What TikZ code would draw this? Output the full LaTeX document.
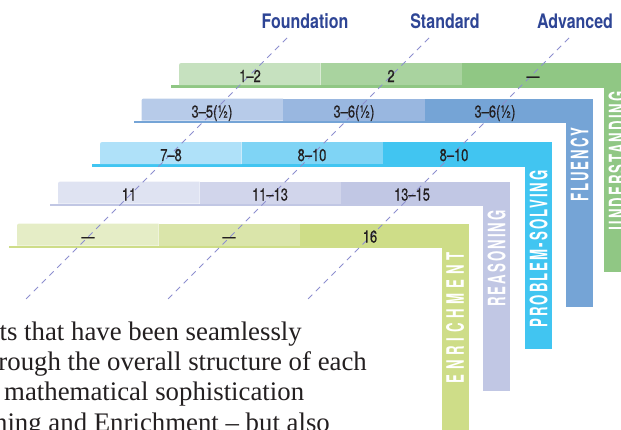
\documentclass[tikz,border=0pt]{standalone}
\usepackage{fontspec}
\setmainfont{Liberation Serif}
\newfontfamily\headfont{TeX Gyre Heros}[FakeStretch=0.8]
\newfontfamily\numfont{TeX Gyre Heros}[FakeStretch=0.76,FakeBold=0.7]
\newfontfamily\barfont{TeX Gyre Heros}[FakeStretch=0.55,LetterSpace=8.5]
\newfontfamily\widebarfont{TeX Gyre Heros}[FakeStretch=0.55,LetterSpace=20]

\definecolor{headblue}{HTML}{2E4595}
\definecolor{textgrey}{HTML}{231F20}
\definecolor{dashblue}{HTML}{8D8FCF}
% understanding
\definecolor{unlight}{HTML}{C6E1BF}
\definecolor{unmid}{HTML}{A9D39F}
\definecolor{undark}{HTML}{90C784}
% fluency
\definecolor{fllight}{HTML}{B7CBE9}
\definecolor{flmid}{HTML}{99B7E0}
\definecolor{fldark}{HTML}{75A4D6}
% problem-solving
\definecolor{pslight}{HTML}{AFE1F9}
\definecolor{psmid}{HTML}{7FD4F5}
\definecolor{psdark}{HTML}{41C5F1}
% reasoning
\definecolor{relight}{HTML}{DFE3F2}
\definecolor{remid}{HTML}{D1D5EB}
\definecolor{redark}{HTML}{C1C7E4}
% enrichment
\definecolor{enlight}{HTML}{E5EDC6}
\definecolor{enmid}{HTML}{DAE5AA}
\definecolor{endark}{HTML}{CEDD88}

\begin{document}
\begin{tikzpicture}[x=1pt,y=-1pt,
	head/.style={anchor=base,text=headblue,font=\headfont\bfseries\fontsize{20}{20}\selectfont},
	num/.style={anchor=base,text=textgrey,font=\numfont\fontsize{17}{17}\selectfont},
	strand/.style={rotate=90,anchor=east,inner sep=0pt,text=white,font=\barfont\bfseries\fontsize{24}{24}\selectfont},
	body/.style={anchor=base east,inner sep=0pt,text=textgrey,font=\fontsize{26.8}{30}\selectfont},
	level/.style={dashblue,dash pattern=on 6pt off 5pt,line width=0.9pt}]

	\useasboundingbox (0,0) rectangle (621,429);

	\node (found) at (305,28) [head] {Foundation};
	\node (stand) at (445,28) [head] {Standard};
	\node (adv) at (575,28) [head] {Advanced};

	% understanding
	\fill[undark] (171,85) rectangle (604,87.5);
	\fill[unlight] (179,85) -- (179,68) .. controls (179,63) .. (184,63) -- (320.5,63) -- (320.5,85) -- cycle;
	\fill[unmid] (320.5,63) rectangle (462,85);
	\fill[undark] (462,63) rectangle (631,87.5);
	\fill[undark] (604,63) rectangle (631,272);

	% fluency
	\fill[fldark] (133.5,120.5) rectangle (566,123);
	\fill[fllight] (141.5,120.5) -- (141.5,103.5) .. controls (141.5,98.5) .. (146.5,98.5) -- (283,98.5) -- (283,120.5) -- cycle;
	\fill[flmid] (283,98.5) rectangle (424.5,120.5);
	\fill[fldark] (424.5,98.5) rectangle (593,123);
	\fill[fldark] (566,98.5) rectangle (593,307);

	% problem-solving
	\fill[psdark] (92,164) rectangle (525,166.5);
	\fill[pslight] (100,164) -- (100,147) .. controls (100,142) .. (105,142) -- (241.5,142) -- (241.5,164) -- cycle;
	\fill[psmid] (241.5,142) rectangle (383,164);
	\fill[psdark] (383,142) rectangle (552,166.5);
	\fill[psdark] (525,142) rectangle (552,349);

	% reasoning
	\fill[redark] (50,203.5) rectangle (483,206);
	\fill[relight] (58,203.5) -- (58,186.5) .. controls (58,181.5) .. (63,181.5) -- (199.5,181.5) -- (199.5,203.5) -- cycle;
	\fill[remid] (199.5,181.5) rectangle (341,203.5);
	\fill[redark] (341,181.5) rectangle (510,206);
	\fill[redark] (483,181.5) rectangle (510,391);

	% enrichment
	\fill[endark] (9,245.5) rectangle (441.5,248);
	\fill[enlight] (17,245.5) -- (17,228.5) .. controls (17,223.5) .. (22,223.5) -- (158.5,223.5) -- (158.5,245.5) -- cycle;
	\fill[enmid] (158.5,223.5) rectangle (300,245.5);
	\fill[endark] (300,223.5) rectangle (468.5,248);
	\fill[endark] (441.5,223.5) rectangle (468.5,440);

	% levels
	\coordinate (f1) at (287,38);
	\coordinate (f2) at (26,299);
	\coordinate (s1) at (429,38);
	\coordinate (s2) at (168,299);
	\coordinate (a1) at (569,38);
	\coordinate (a2) at (308,299);
	\draw[level] (f1) -- (f2);
	\draw[level] (s1) -- (s2);
	\draw[level] (a1) -- (a2);

	\node (un1) at (250,82) [num] {1–2};
	\node (un2) at (391,82) [num] {2};
	\node (un3) at (533,82) [num] {—};
	\node (fl1) at (212,117.5) [num] {3–5(½)};
	\node (fl2) at (354,117.5) [num] {3–6(½)};
	\node (fl3) at (495,117.5) [num] {3–6(½)};
	\node (ps1) at (171,161) [num] {7–8};
	\node (ps2) at (312,161) [num] {8–10};
	\node (ps3) at (454,161) [num] {8–10};
	\node (re1) at (129,200.5) [num] {11};
	\node (re2) at (270,200.5) [num] {11–13};
	\node (re3) at (412,200.5) [num] {13–15};
	\node (en1) at (88,242.5) [num] {—};
	\node (en2) at (229,242.5) [num] {—};
	\node (en3) at (370,242.5) [num] {16};

	\node (under) at (617.5,91) [strand] {UNDERSTANDING};
	\node (flu) at (579.5,127) [strand] {FLUENCY};
	\node (prob) at (538.5,170) [strand] {PROBLEM-SOLVING};
	\node (reas) at (496.5,210) [strand] {REASONING};
	\node (enr) at (455,252) [strand,font=\widebarfont\bfseries\fontsize{24}{24}\selectfont] {ENRICHMENT};

	\node (l1) at (302,340) [body] {nts that have been seamlessly};
	\node (l2) at (367,370) [body] {rough the overall structure of each};
	\node (l3) at (4,400) [body,anchor=base west] {mathematical sophistication};
	\node (l4) at (330,431) [body] {ning and Enrichment – but also};

\end{tikzpicture}
\end{document}
